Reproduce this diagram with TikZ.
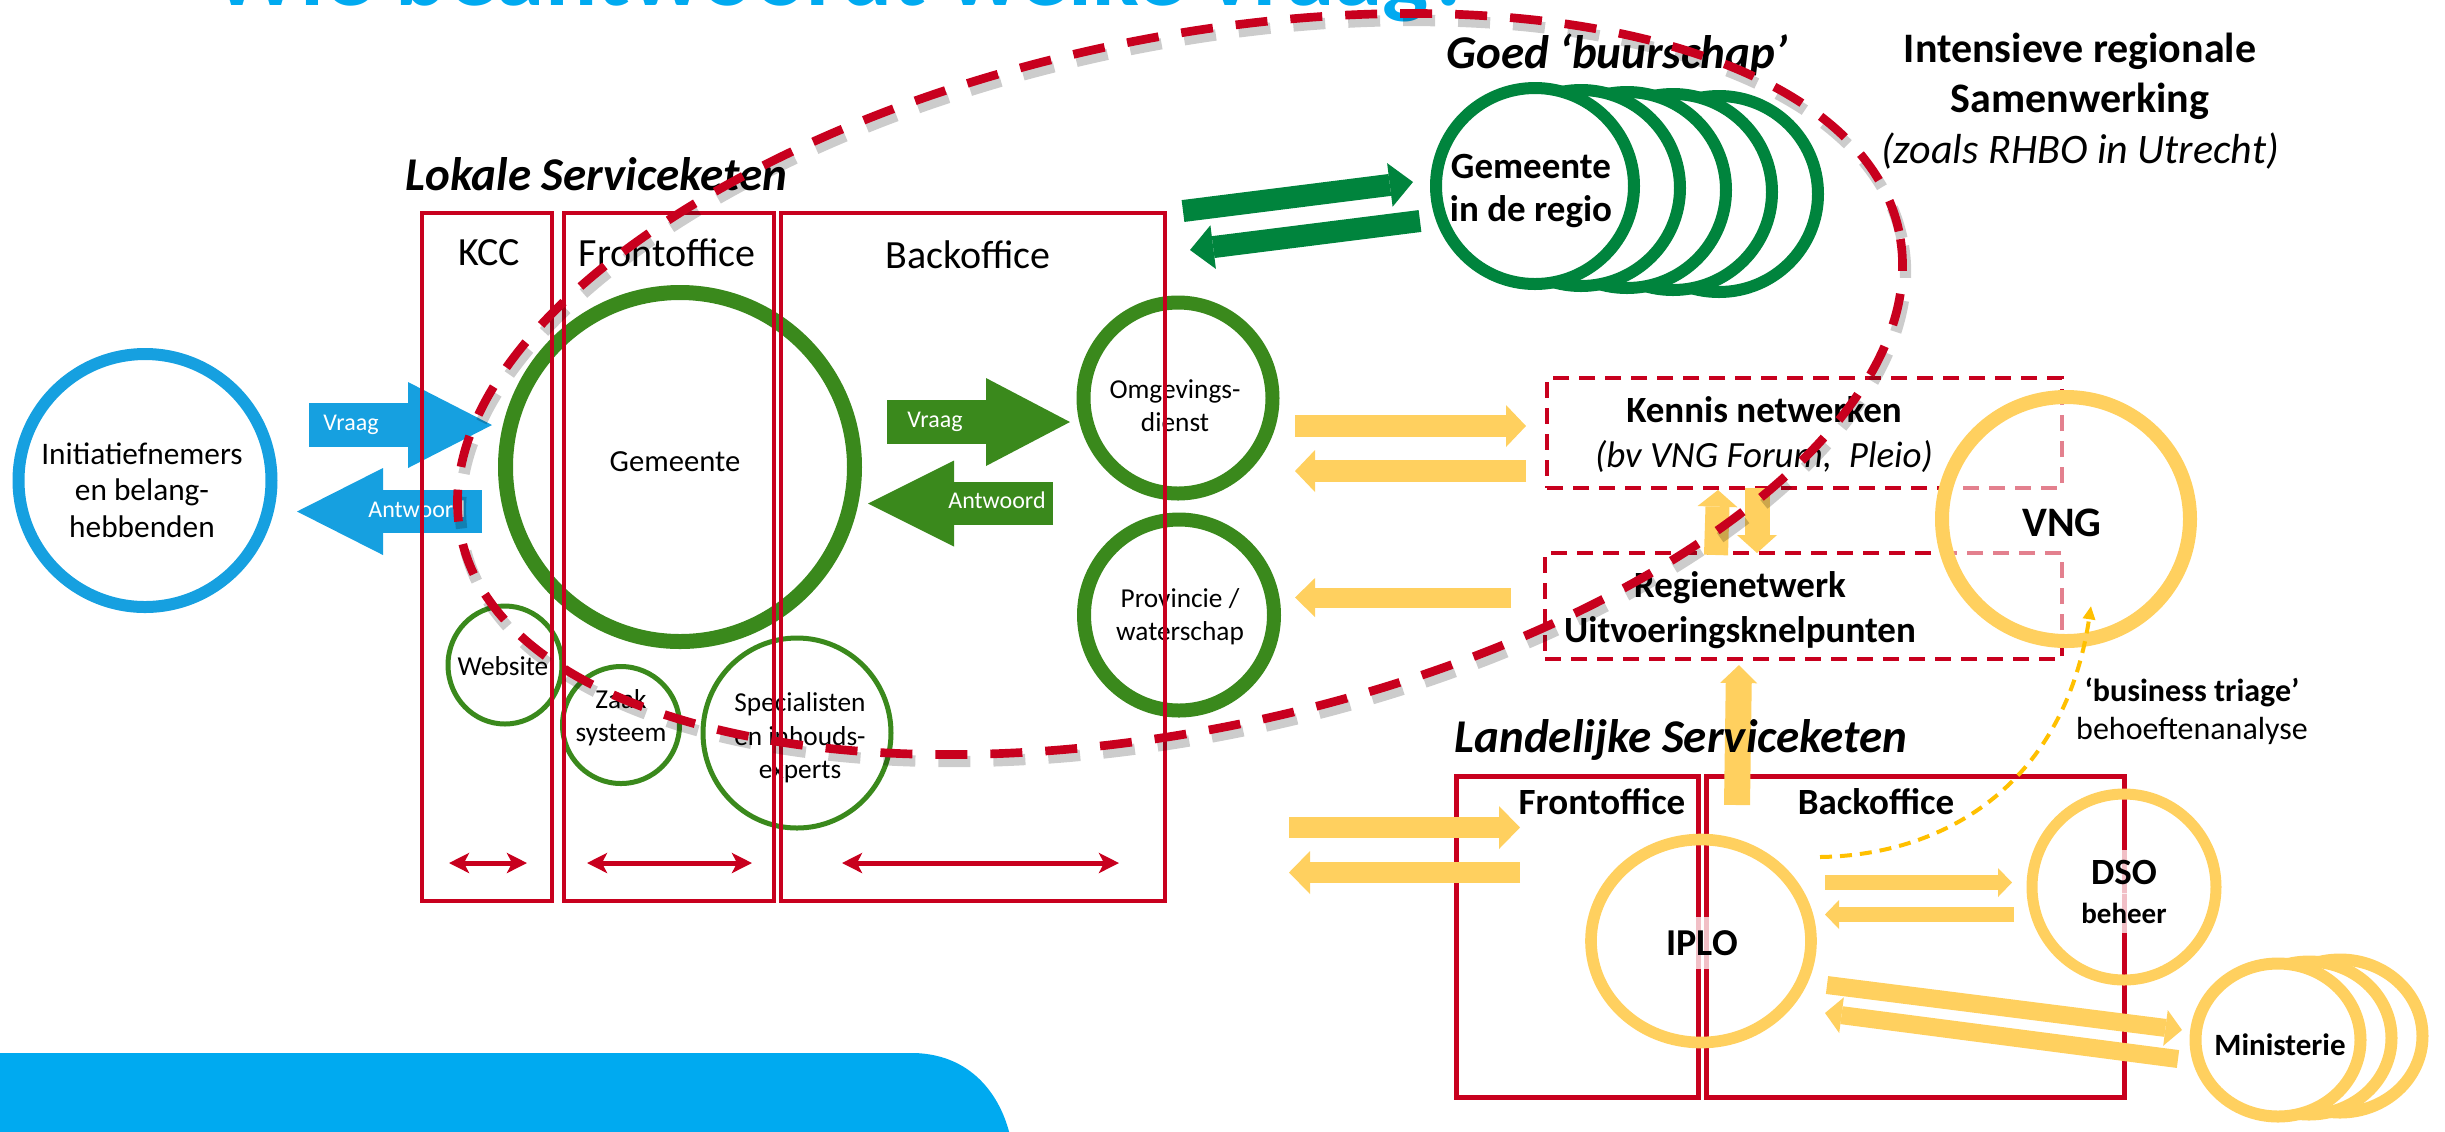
\documentclass[tikz,border=0pt]{standalone}
\usepackage{fontspec}
\setmainfont{Carlito}
\usetikzlibrary{arrows.meta,shapes.geometric}
\definecolor{skyb}{RGB}{22,160,224}
\definecolor{titleb}{RGB}{0,170,240}
\definecolor{olive}{RGB}{58,137,28}
\definecolor{regio}{RGB}{0,132,61}
\definecolor{redc}{RGB}{200,0,30}
\definecolor{yel}{RGB}{255,208,95}
\definecolor{dyel}{RGB}{255,192,0}
\newcommand\fs[2]{\fontsize{#1}{#2}\selectfont}
\begin{document}
\begin{tikzpicture}[x=0.3pt,y=-0.3pt,
  ring/.style={ellipse,draw,inner sep=0pt,outer sep=0pt},
  rbox/.style={rectangle,draw=redc,line width=1.4pt,inner sep=0pt,outer sep=0pt},
  dbox/.style={rectangle,draw=redc,line width=1.2pt,dash pattern=on 4.8pt off 3pt,inner sep=0pt,outer sep=0pt},
  lbl/.style={inner sep=0pt,align=center},
  wlbl/.style={inner sep=0pt,text=white,font=\fs{7.2}{9}},
  sect/.style={font=\fs{14.1}{16}\bfseries\itshape,anchor=base west,inner sep=0pt},
  blk/.style n args={3}{line width=#1,-{Triangle[length=#2,width=#3,line width=0pt]}},
  dred/.style={redc,line width=1.5pt,{Stealth[length=6pt,width=6pt,inset=1.5pt]}-{Stealth[length=6pt,width=6pt,inset=1.5pt]}}
]
\useasboundingbox (0,0) rectangle (2445,1131);
\clip (0,0) rectangle (2445,1131);

% background shape and title
\fill[titleb] (0,1053) -- (915,1053) .. controls (975,1055) and (1003,1100) .. (1011,1140) -- (0,1140) -- cycle;
\node[font=\fs{29.2}{35}\bfseries,text=titleb,anchor=base west,inner sep=0pt] (title) at (212,5) {Wie beantwoordt welke vraag?};

% Landelijke rects
\node[rbox,line width=1.5pt,minimum width=72.6pt,minimum height=96.3pt] (nfront) at (1577,936.5) {};
\node[rbox,line width=1.5pt,minimum width=125.4pt,minimum height=96.3pt] (nback) at (1915,936.5) {};
\node[lbl,font=\fs{11.1}{13}\bfseries] (nfrontt) at (1602,802) {Frontoffice};
\node[lbl,font=\fs{11.1}{13}\bfseries] (nbackt) at (1876,802) {Backoffice};

% dashed boxes
\node[dbox,minimum width=154.5pt,minimum height=33pt] (kennis) at (1804.5,433) {};
\node[dbox,minimum width=155.1pt,minimum height=31.8pt] (regie) at (1803.5,606) {};
\node[lbl,font=\fs{11.1}{13.5}] (kennist) at (1764,435) {{\bfseries Kennis netwerken}\\{\itshape (bv VNG Forum,\ \ Pleio)}};
\node[lbl,font=\fs{11.1}{13.5}\bfseries] (regiet) at (1740,610) {Regienetwerk\\Uitvoeringsknelpunten};

% green circles (lokale)
\node[ring,draw=olive,line width=4.5pt,minimum width=104.7pt,minimum height=104.7pt] (gem) at (680,467) {};
\node[lbl,font=\fs{9.2}{11}] (gemt) at (675,462) {Gemeente};
\node[ring,draw=olive,line width=1.5pt,minimum width=34.2pt,minimum height=35.4pt] (web) at (505,665) {};
\node[lbl,font=\fs{8.2}{10}] (webt) at (503,666) {Website};
\node[ring,draw=olive,line width=1.5pt,minimum width=35.1pt,minimum height=35.1pt] (zaak) at (621,725) {};
\node[lbl,font=\fs{8.2}{10}] (zaakt) at (621,718) {Zaak\\systeem};
\node[ring,draw=olive,line width=1.5pt,minimum width=56.4pt,minimum height=57pt] (spec) at (797,733) {};
\node[lbl,font=\fs{8.2}{10}] (spect) at (800,738) {Specialisten\\en inhouds-\\experts};
\node[ring,draw=olive,line width=4.2pt,minimum width=56.7pt,minimum height=57.3pt] (omg) at (1178,398) {};
\node[lbl,font=\fs{8.2}{10}] (omgt) at (1175,406) {Omgevings-\\dienst};
\node[ring,draw=olive,line width=4.2pt,minimum width=57pt,minimum height=57.3pt] (prov) at (1179,615) {};
\node[lbl,font=\fs{8.2}{10}] (provt) at (1180,617) {Provincie /\\waterschap};

% blue circle and arrows
\node[ring,draw=skyb,line width=3.6pt,minimum width=75.9pt,minimum height=75.9pt] (ini) at (145,480.5) {};
\node[lbl,font=\fs{9.4}{11}] (init) at (142,490) {Initiatiefnemers\\en belang-\\hebbenden};
\coordinate (bv1) at (309,425); \coordinate (bv2) at (492,425);
\draw[skyb,blk={13.2pt}{25.2pt}{25.8pt}] (bv1) -- (bv2);
\node[wlbl] (bvt) at (351,425) {Vraag};
\coordinate (ba1) at (482,511.5); \coordinate (ba2) at (297,511.5);
\draw[skyb,blk={12.9pt}{25.8pt}{26.1pt}] (ba1) -- (ba2);
\node[wlbl] (bat) at (417,509) {Antwoord};

% green arrows
\coordinate (gv1) at (887,422); \coordinate (gv2) at (1070,422);
\draw[olive,blk={13.2pt}{25.2pt}{26.4pt}] (gv1) -- (gv2);
\node[wlbl] (gvt) at (935,422) {Vraag};
\coordinate (ga1) at (1053,503.5); \coordinate (ga2) at (868,503.5);
\draw[olive,blk={12.9pt}{25.8pt}{25.8pt}] (ga1) -- (ga2);
\node[wlbl] (gat) at (997,500) {Antwoord};

% lokale rects (on top of circles)
\node[rbox,minimum width=39pt,minimum height=206.4pt] (kcc) at (487,557) {};
\node[rbox,minimum width=63pt,minimum height=206.4pt] (lfront) at (669,557) {};
\node[rbox,minimum width=115.2pt,minimum height=206.4pt] (lback) at (973,557) {};
\node[lbl,font=\fs{12}{14}] (kcct) at (489,253) {KCC};
\node[lbl,font=\fs{12}{14}] (lfrontt) at (667,253) {Frontoffice};
\node[lbl,font=\fs{12}{14}] (lbackt) at (968,255) {Backoffice};
\coordinate (d1a) at (449,863); \coordinate (d1b) at (527,863);
\coordinate (d2a) at (587,863); \coordinate (d2b) at (752,863);
\coordinate (d3a) at (842,863); \coordinate (d3b) at (1119,863);
\draw[dred] (d1a) -- (d1b);
\draw[dred] (d2a) -- (d2b);
\draw[dred] (d3a) -- (d3b);

% regio arrows
\coordinate (ra1) at (1183,211); \coordinate (ra2) at (1413,182);
\coordinate (rb1) at (1420,221); \coordinate (rb2) at (1190,250);
\draw[regio,blk={6.6pt}{7pt}{13.2pt}] (ra1) -- (ra2);
\draw[regio,blk={6.6pt}{7pt}{13.2pt}] (rb1) -- (rb2);

% Goed buurschap circles
\foreach \k in {4,3,2,1}{
  \node[ring,draw=regio,fill=white,line width=3.6pt,minimum width=59.4pt,minimum height=58.8pt] (goed\k) at ({1535+46*\k},{186+2*\k}) {};
}
\node[ring,draw=regio,fill=white,line width=3.6pt,minimum width=59.4pt,minimum height=58.8pt] (goed0) at (1535,186) {};
\node[lbl,font=\fs{11.1}{12.9}\bfseries] (goedt) at (1531,191) {Gemeente\\in de regio};

% yellow arrows
\coordinate (ya1) at (1295,426); \coordinate (ya2) at (1526,426);
\coordinate (yb1) at (1526,471); \coordinate (yb2) at (1295,471);
\coordinate (yc1) at (1511,597.5); \coordinate (yc2) at (1295,597.5);
\draw[yel,blk={6.6pt}{6pt}{12.6pt}] (ya1) -- (ya2);
\draw[yel,blk={6.6pt}{6pt}{12.6pt}] (yb1) -- (yb2);
\draw[yel,blk={6pt}{6pt}{11.7pt}] (yc1) -- (yc2);
\coordinate (yu1) at (1716,555); \coordinate (yu2) at (1718,490);
\coordinate (yd1) at (1757,488); \coordinate (yd2) at (1757,553);
\coordinate (yv1) at (1737,805); \coordinate (yv2) at (1739,665);
\draw[yel,blk={7.2pt}{5pt}{12pt}] (yu1) -- (yu2);
\draw[yel,blk={7.5pt}{5.4pt}{12pt}] (yd1) -- (yd2);
\draw[yel,blk={7.8pt}{5.4pt}{11.1pt}] (yv1) -- (yv2);
\coordinate (l1a) at (1289,827.5); \coordinate (l1b) at (1520,827.5);
\coordinate (l2a) at (1520,872.5); \coordinate (l2b) at (1289,872.5);
\draw[yel,blk={6.3pt}{6.3pt}{12.9pt}] (l1a) -- (l1b);
\draw[yel,blk={6.3pt}{6.3pt}{12.9pt}] (l2a) -- (l2b);
\coordinate (l3a) at (1825,882.5); \coordinate (l3b) at (2012,882.5);
\coordinate (l4a) at (2014,914.5); \coordinate (l4b) at (1825,914.5);
\draw[yel,blk={4.5pt}{4.2pt}{8.7pt}] (l3a) -- (l3b);
\draw[yel,blk={4.5pt}{4.2pt}{8.7pt}] (l4a) -- (l4b);
\coordinate (l5a) at (1827,985); \coordinate (l5b) at (2182,1030);
\coordinate (l6a) at (2178,1059); \coordinate (l6b) at (1825,1013);
\draw[yel,blk={5.4pt}{5pt}{10.8pt}] (l5a) -- (l5b);
\draw[yel,blk={5.4pt}{5pt}{10.8pt}] (l6a) -- (l6b);

% yellow circles
\node[ring,draw=yel,fill=white,fill opacity=0.5,line width=4.2pt,minimum width=74.4pt,minimum height=73.2pt] (vng) at (2066,519) {};
\node[lbl,font=\fs{12.6}{15}\bfseries] (vngt) at (2062,523) {VNG};
\node[ring,draw=yel,line width=3.5pt,minimum width=66pt,minimum height=60.9pt] (iplo) at (1701,941) {};
\node[lbl,font=\fs{11.4}{13}\bfseries,fill=white,fill opacity=0.75,text opacity=1,inner xsep=1pt,inner ysep=4pt] (iplot) at (1702,943) {IPLO};
\node[ring,draw=yel,line width=3.3pt,minimum width=55.2pt,minimum height=55.8pt] (dso) at (2124,887) {};
\node[lbl,font=\fs{11.1}{13}\bfseries,fill=white,fill opacity=0.75,text opacity=1,inner xsep=1pt,inner ysep=3pt] (dsot) at (2124,872) {DSO};
\node[lbl,font=\fs{8.7}{10}\bfseries,fill=white,fill opacity=0.75,text opacity=1,inner xsep=1pt,inner ysep=3pt] (beht) at (2124,913) {beheer};
\foreach \k in {2,1}{
  \node[ring,draw=yel,fill=white,line width=3.6pt,minimum width=49.5pt,minimum height=45.9pt] (min\k) at ({2278+31*\k},{1040-2*\k}) {};
}
\node[ring,draw=yel,fill=white,line width=3.6pt,minimum width=49.5pt,minimum height=45.9pt] (min0) at (2278,1040) {};
\node[lbl,font=\fs{9.3}{11}\bfseries] (mint) at (2280,1045) {Ministerie};

% business triage
\coordinate (bt1) at (1820,857); \coordinate (bt2) at (2091,606);
\draw[dyel,line width=1.2pt,dash pattern=on 3.6pt off 2.4pt,-{Triangle[length=4pt,width=3.6pt]}] (bt1) .. controls (1950,855) and (2065,780) .. (bt2);
\node[lbl,font=\fs{9.6}{11.4}] (btt) at (2192,711) {{\bfseries ‘business triage’}\\behoeftenanalyse};

% section titles
\node[sect] (lok) at (405,190) {Lokale Serviceketen};
\node[sect] (goedtt) at (1446,68) {Goed ‘buurschap’};
\node[sect] (land) at (1454,752) {Landelijke Serviceketen};
\node[font=\fs{12.6}{15}\bfseries,anchor=base,inner sep=0pt] (int1) at (2080,62) {Intensieve regionale};
\node[font=\fs{12.6}{15}\bfseries,anchor=base,inner sep=0pt] (int2) at (2080,112) {Samenwerking};
\node[font=\fs{12.6}{15}\itshape,anchor=base,inner sep=0pt] (int3) at (2080,163) {(zoals RHBO in Utrecht)};

% dashed ellipse with shadow
\draw[black,opacity=0.2,line width=3.4pt,dash pattern=on 9.6pt off 6.9pt,rotate around={12:(1183,391)}] (1183,391) ellipse [x radius=220.5pt,y radius=103.5pt];
\draw[redc,line width=2.6pt,dash pattern=on 9.6pt off 6.9pt,rotate around={12:(1180,384)}] (1180,384) ellipse [x radius=220.5pt,y radius=103.5pt];
\end{tikzpicture}
\end{document}
